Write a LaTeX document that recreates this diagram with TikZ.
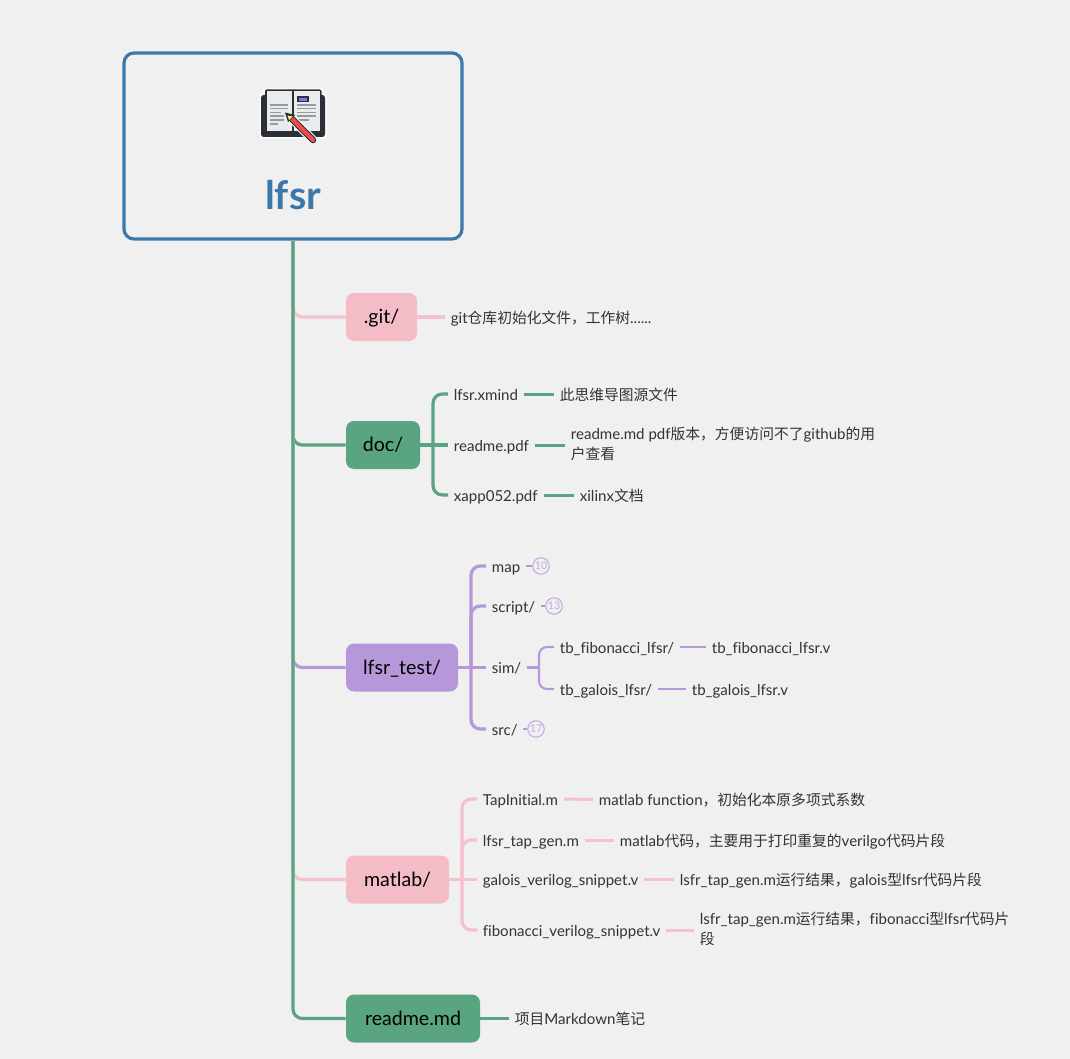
\documentclass[tikz,border=0pt]{standalone}
\usepackage{fontspec}
\setmainfont{Lato}[Ligatures=NoCommon]
\newfontfamily\cjk{Noto Sans CJK SC}[Scale=0.98]
\newcommand{\zh}[1]{{\cjk #1}}
\definecolor{bgc}{HTML}{F0F0F0}
\definecolor{bluec}{HTML}{3D78AB}
\definecolor{greenc}{HTML}{5AA581}
\definecolor{pinkc}{HTML}{F4BCC7}
\definecolor{pinkl}{HTML}{F6C1CC}
\definecolor{purplec}{HTML}{B698DA}
\definecolor{badgec}{HTML}{C4A8E6}
\definecolor{txtc}{HTML}{333333}
\definecolor{inkc}{HTML}{2B2F36}
\definecolor{pagec}{HTML}{E8ECEF}
\definecolor{redc}{HTML}{F04B4B}
\definecolor{violetc}{HTML}{8B6CEF}
\def\pu{0.75pt}
\tikzset{
  topicbox/.style={rounded corners=6pt,inner sep=0pt,minimum height=48*\pu,text=black,font=\fontsize{14.7}{17}\selectfont,
    execute at begin node={\vrule width 0pt height 13pt depth 2.8pt}},
  rootbox/.style={draw=bluec,line width=2.4pt,rounded corners=7.5pt,inner sep=0pt,minimum width=338*\pu,minimum height=186*\pu},
  leaf/.style={anchor=west,inner xsep=4.2pt,inner ysep=1pt,text=txtc,align=left,font=\fontsize{11.3}{15}\selectfont,
    execute at begin node={\vrule width 0pt height 11.5pt depth 2pt}},
  badge/.style={circle,draw=badgec,line width=0.8pt,minimum size=16.5*\pu,inner sep=0pt,text=badgec,font=\fontsize{8}{9}\selectfont},
  mainline/.style={line width=2.4pt,rounded corners=7pt},
  subline/.style={line width=2.25pt,rounded corners=7pt},
  thinline/.style={line width=1.6pt,rounded corners=6pt},
  bookline/.style={line width=0.8pt,draw=black!40},
}
\begin{document}
\begin{tikzpicture}[x=0.75pt,y=-0.75pt]
\fill[bgc] (0,0) rectangle (1070,1059);
\useasboundingbox (0,0) rectangle (1070,1059);

% root
\node[rootbox] (root) at (293,146) {};
\node[text=bluec,font=\fontsize{29.5}{32}\selectfont\bfseries,inner sep=0pt] (rootlabel) at (293,195) {lfsr};

% book icon
\fill[white,rounded corners=2pt] (259.5,93.5) rectangle (326.5,138.5);
\fill[white,rounded corners=1pt] (263.5,88.5) rectangle (322.5,134);
\fill[inkc,rounded corners=2pt] (261,95) rectangle (325,137);
\fill[inkc,rounded corners=1pt] (265,89.5) rectangle (321.5,133);
\fill[pagec] (266.5,91) rectangle (291.5,131);
\fill[pagec] (294,91) rectangle (320,131);
\fill[inkc] (297,96.5) rectangle (308.5,102.5);
\fill[violetc] (298.5,98) rectangle (307,101);
\foreach \ya/\xb in {105/288,108.5/288,112.5/281,116/284,120/284,124/278}
  \draw[bookline] (270,\ya) -- (\xb,\ya);
\foreach \ya/\xb in {105/316,108.5/316,112.5/316,116/316,120/309}
  \draw[bookline] (297,\ya) -- (\xb,\ya);
\draw[white,line width=6.4pt,line cap=round] (292,119) -- (313,140);
\draw[inkc,line width=5pt,line cap=round] (292,119) -- (313,140);
\draw[redc,line width=3.2pt,line cap=round] (292,119) -- (313,140);
\fill[inkc] (285,112.5) -- (295,115) -- (288,122) -- cycle;
\fill[yellow!60!white] (287.5,115.5) -- (292.5,116.5) -- (289,120) -- cycle;

% first level
\node[topicbox,fill=pinkc,minimum width=71*\pu] (git) at (381.5,317) {.git/};
\node[topicbox,fill=greenc,minimum width=74*\pu] (doc) at (383,445) {doc/};
\node[topicbox,fill=purplec,minimum width=112*\pu] (test) at (402,667.5) {lfsr\_test/};
\node[topicbox,fill=pinkc,minimum width=103*\pu] (matlab) at (397.5,879.5) {matlab/};
\node[topicbox,fill=greenc,minimum width=134*\pu] (readme) at (413,1018.5) {readme.md};

\draw[mainline,pinkl] (root.south) |- (git.west);
\draw[mainline,greenc] (root.south) |- (doc.west);
\draw[mainline,purplec] (root.south) |- (test.west);
\draw[mainline,pinkl] (root.south) |- (matlab.west);
\draw[mainline,greenc] (root.south) |- (readme.west);

% .git/
\node[leaf] (gitnote) at (445,317) {git\zh{仓库初始化文件，工作树}......};
\draw[mainline,pinkl] (git.east) -- (gitnote.west);

% doc/
\node[leaf] (dxmind) at (448,394) {lfsr.xmind};
\node[leaf] (dpdf) at (448,445) {readme.pdf};
\node[leaf] (dxapp) at (448,495) {xapp052.pdf};
\node[leaf] (nxmind) at (554,394) {\zh{此思维导图源文件}};
\node[leaf] (npdf) at (565,445) {readme.md pdf\zh{版本，方便访问不了}github\zh{的用}\\\zh{户查看}};
\node[leaf] (nxapp) at (574,495) {xilinx\zh{文档}};
\coordinate (dochub) at (433,445);
\draw[mainline,greenc] (doc.east) -- (dpdf.west);
\draw[mainline,greenc] (dochub) |- (dxmind.west);
\draw[mainline,greenc] (dochub) |- (dxapp.west);
\draw[subline,greenc] (dxmind.east) -- (nxmind.west);
\draw[subline,greenc] (dpdf.east) -- (npdf.west);
\draw[subline,greenc] (dxapp.east) -- (nxapp.west);

% lfsr_test/
\node[leaf] (tmap) at (486,566) {map};
\node[leaf] (tscript) at (486,606) {script/};
\node[leaf] (tsim) at (486,667.5) {sim/};
\node[leaf] (tsrc) at (486,729) {src/};
\node[badge] (bmap) at (541,566) {10};
\node[badge] (bscript) at (554,606) {13};
\node[badge] (bsrc) at (536,729) {17};
\coordinate (testhub) at (471,667.5);
\draw[mainline,purplec] (test.east) -- (tsim.west);
\draw[mainline,purplec] (testhub) |- (tmap.west);
\draw[mainline,purplec] (testhub) |- (tscript.west);
\draw[mainline,purplec] (testhub) |- (tsrc.west);
\draw[thinline,purplec] (tmap.east) -- (bmap.west);
\draw[thinline,purplec] (tscript.east) -- (bscript.west);
\draw[thinline,purplec] (tsrc.east) -- (bsrc.west);
\node[leaf] (sfib) at (554,647) {tb\_fibonacci\_lfsr/};
\node[leaf] (sgal) at (554,689) {tb\_galois\_lfsr/};
\node[leaf] (ffib) at (706,647) {tb\_fibonacci\_lfsr.v};
\node[leaf] (fgal) at (686,689) {tb\_galois\_lfsr.v};
\coordinate (simhub) at (539,667.5);
\draw[thinline,purplec] (tsim.east) -- (simhub);
\draw[thinline,purplec] (simhub) |- (sfib.west);
\draw[thinline,purplec] (simhub) |- (sgal.west);
\draw[thinline,purplec] (sfib.east) -- (ffib.west);
\draw[thinline,purplec] (sgal.east) -- (fgal.west);

% matlab/
\node[leaf] (mtap) at (477,799) {TapInitial.m};
\node[leaf] (mgen) at (477,840) {lfsr\_tap\_gen.m};
\node[leaf] (mgal) at (477,879.5) {galois\_verilog\_snippet.v};
\node[leaf] (mfib) at (477,930) {fibonacci\_verilog\_snippet.v};
\node[leaf] (ntap) at (593,799.5) {matlab function\zh{，初始化本原多项式系数}};
\node[leaf] (ngen) at (614,840) {matlab\zh{代码，主要用于打印重复的}verilgo\zh{代码片段}};
\node[leaf] (ngal) at (674,879.5) {lsfr\_tap\_gen.m\zh{运行结果，}galois\zh{型}lfsr\zh{代码片段}};
\node[leaf] (nfib) at (694,930) {lsfr\_tap\_gen.m\zh{运行结果，}fibonacci\zh{型}lfsr\zh{代码片}\\\zh{段}};
\coordinate (mathub) at (462,879.5);
\draw[mainline,pinkl] (matlab.east) -- (mgal.west);
\draw[mainline,pinkl] (mathub) |- (mtap.west);
\draw[mainline,pinkl] (mathub) |- (mgen.west);
\draw[mainline,pinkl] (mathub) |- (mfib.west);
\draw[subline,pinkl] (mtap.east) -- (ntap.west);
\draw[subline,pinkl] (mgen.east) -- (ngen.west);
\draw[subline,pinkl] (mgal.east) -- (ngal.west);
\draw[subline,pinkl] (mfib.east) -- (nfib.west);

% readme.md
\node[leaf] (rnote) at (509,1018.5) {\zh{项目}Markdown\zh{笔记}};
\draw[mainline,greenc] (readme.east) -- (rnote.west);
\end{tikzpicture}
\end{document}
